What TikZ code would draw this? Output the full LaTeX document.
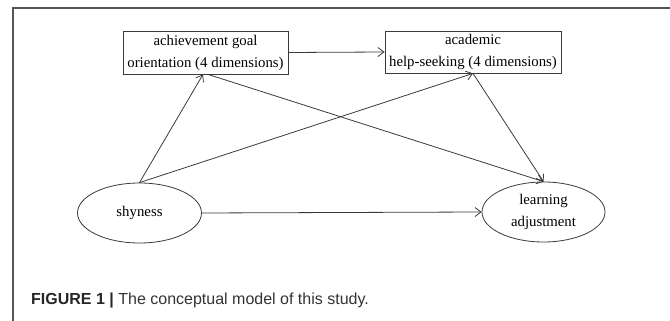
\documentclass[tikz,border=0pt]{standalone}
\usepackage{fontspec}
\setmainfont{Liberation Serif}
\setsansfont{Liberation Sans}
\usetikzlibrary{shapes.geometric,arrows.meta}
\definecolor{linegray}{HTML}{3A3A3A}
\definecolor{framegray}{HTML}{555555}
\definecolor{captext}{HTML}{333333}
\begin{document}
\begin{tikzpicture}[x=1pt,y=1pt,
  boxnode/.style={draw=linegray,line width=0.8pt,rectangle,inner sep=0pt,align=center,
    font=\fontsize{14.8}{22}\selectfont},
  ellnode/.style={draw=linegray,line width=0.8pt,ellipse,inner sep=0pt,align=center,
    minimum width=124pt,minimum height=60pt,font=\fontsize{14.8}{22}\selectfont},
  conn/.style={draw=linegray,line width=0.8pt,-{Straight Barb[length=6pt,width=9pt]}}]
\useasboundingbox (0,0) rectangle (670,321);
% frame
\draw[framegray,line width=1.3pt] (670,313) -- (13,313) -- (13,0);
% nodes
\node[boxnode,minimum width=165pt,minimum height=43pt] (b1) at (205.5,268.5)
  {achievement goal\\orientation (4 dimensions)};
\node[boxnode,minimum width=176pt,minimum height=42pt] (b2) at (473,269)
  {academic\\help-seeking (4 dimensions)};
\node[ellnode] (sh) at (139.5,108) {shyness};
\node[ellnode,minimum width=123pt] (la) at (543.5,109) {learning\\adjustment};
% connectors
\draw[conn] (b1.east) -- (b2.west);
\draw[conn] (sh.north) -- ([xshift=-2.5pt]b1.south);
\draw[conn] (sh.north) -- (b2.south);
\draw[conn] ([xshift=2.5pt]b1.south) -- (la.north);
\draw[conn] (b2.south) -- (la.north);
\draw[conn] (sh.east) -- (la.west);
% caption
\node[anchor=base west,inner sep=0pt,font=\sffamily\fontsize{16}{19}\selectfont,text=captext] (cap) at (31,16)
  {\textbf{\color{black!85}FIGURE 1 |} The conceptual model of this study.};
\end{tikzpicture}
\end{document}
